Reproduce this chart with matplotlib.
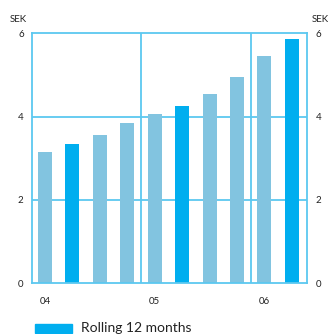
import matplotlib
matplotlib.use("Agg")
import matplotlib.pyplot as plt
from matplotlib.patches import Rectangle

values = [3.15, 3.34, 3.56, 3.85, 4.07, 4.25, 4.54, 4.95, 5.45, 5.86]
highlight = [False, True, False, False, False, True, False, False, False, True]
year_labels = ["04", "05", "06"]
year_label_pos = [0, 4, 8]
separators = [3.5, 7.5]
yticks = [0, 2, 4, 6]
legend_label = "Rolling 12 months"
unit = "SEK"

light = "#82C4E0"
dark = "#00AEEF"
frame = "#5CC8F0"

plt.rcParams['font.family'] = ['Lato', 'DejaVu Sans']

fig = plt.figure(figsize=(3.28, 3.34), dpi=100)
ax = fig.add_axes([32/328, 1-283.3/334, 275/328, 250/334])

xs = list(range(len(values)))
cols = [dark if h else light for h in highlight]
ax.bar(xs, values, width=0.51, color=cols, zorder=2)

ax.set_xlim(-0.475, 9.55)
ax.set_ylim(0, 6)
for y in [2, 4]:
    ax.axhline(y, color=frame, lw=1.3, zorder=1)
for x in separators:
    ax.axvline(x, color=frame, lw=1.3, zorder=1)
for s in ax.spines.values():
    s.set_color(frame)
    s.set_linewidth(1.3)

ax.set_yticks(yticks)
ax.set_yticklabels([str(t) for t in yticks])
ax.tick_params(axis='y', length=0, pad=6, labelsize=7, colors='#222222',
               labelright=True, right=False)
ax.set_xticks(year_label_pos)
ax.set_xticklabels(year_labels)
ax.tick_params(axis='x', length=0, pad=10, labelsize=7, colors='#222222')
for lab in ax.get_yticklabels():
    pass

fig.text(10/328, 1-19/334, unit, fontsize=7, color='#222222', va='center', ha='left')
fig.text(312/328, 1-19/334, unit, fontsize=7, color='#222222', va='center', ha='left')

fig.patches.append(Rectangle((35/328, 1-333/334), 37/328, 9/334,
                             transform=fig.transFigure, color=dark))
fig.text(81/328, 1-328/334, legend_label, fontsize=10, color='#222222',
         va='center', ha='left')

fig.savefig("out.png", dpi=100)
